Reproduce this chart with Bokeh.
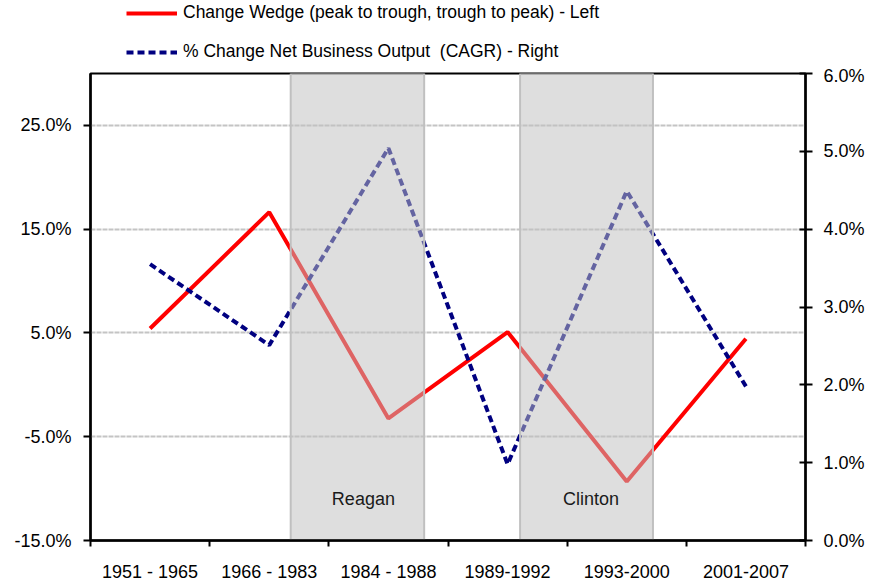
from bokeh.plotting import figure
from bokeh.layouts import column
from bokeh.models import (Range1d, LinearAxis, FixedTicker, PrintfTickFormatter,
                          Legend, LegendItem, ColumnDataSource)
from bokeh.core.properties import value
from bokeh.embed import file_html
from bokeh.resources import INLINE

# ---- data ----
categories = ["1951 - 1965", "1966 - 1983", "1984 - 1988", "1989-1992", "1993-2000", "2001-2007"]
wedge_change = [5.43, 16.64, -3.24, 5.08, -9.31, 4.44]        # left axis, %
output_cagr = [3.55, 2.51, 5.04, 0.98, 4.49, 1.98]            # right axis, %
left_ticks = [-15, -5, 5, 15, 25]
right_ticks = [0, 1, 2, 3, 4, 5, 6]
band_names = ["Reagan", "Clinton"]
band_start = [1.68, 3.605]
band_end = [2.80, 4.72]
band_label_x = [2.29, 4.2]
band_label_y = [-11.0, -11.0]
series_names = ["Change Wedge (peak to trough, trough to peak) - Left",
                "% Change Net Business Output  (CAGR) - Right"]

FONT = "Liberation Sans"
RED = "#ff0000"
NAVY = "#000080"
xs = [i + 0.5 for i in range(len(categories))]

# ---- main chart ----
p = figure(width=867, height=519, output_backend="svg", toolbar_location=None,
           x_range=Range1d(0, len(categories)), y_range=Range1d(-15, 30),
           min_border_left=90, min_border_right=57, min_border_top=8, min_border_bottom=44)
p.extra_y_ranges = {"right": Range1d(0, 6)}

p.outline_line_color = "black"
p.outline_line_width = 2
p.background_fill_color = "white"
p.border_fill_color = "white"

# x axis
xa = p.xaxis[0]
xa.ticker = FixedTicker(ticks=xs, minor_ticks=list(range(len(categories) + 1)))
xa.major_label_overrides = {x: c for x, c in zip(xs, categories)}
xa.major_tick_line_color = None
xa.minor_tick_in = 0
xa.minor_tick_out = 6
xa.minor_tick_line_width = 2
xa.minor_tick_line_color = "black"
xa.axis_line_width = 2.5
xa.axis_line_color = "black"
xa.major_label_standoff = 15
xa.major_label_text_font = FONT
xa.major_label_text_font_size = "18px"
xa.major_label_text_color = "black"

# left axis
ya = p.yaxis[0]
ya.ticker = FixedTicker(ticks=left_ticks)
ya.formatter = PrintfTickFormatter(format="%.1f%%")
ya.minor_tick_line_color = None
ya.major_tick_in = 0
ya.major_tick_out = 7
ya.major_tick_line_width = 2
ya.axis_line_width = 2.5
ya.major_label_standoff = 12
ya.major_label_text_font = FONT
ya.major_label_text_font_size = "18px"
ya.major_label_text_color = "black"

# right axis
ra = LinearAxis(y_range_name="right", ticker=FixedTicker(ticks=right_ticks),
                formatter=PrintfTickFormatter(format="%.1f%%"))
ra.minor_tick_line_color = None
ra.major_tick_in = 6
ra.major_tick_out = 7
ra.major_tick_line_width = 2
ra.axis_line_width = 2.5
ra.major_label_standoff = 11
ra.major_label_text_font = FONT
ra.major_label_text_font_size = "18px"
ra.major_label_text_color = "black"
p.add_layout(ra, "right")

p.xgrid.grid_line_color = None
p.ygrid.grid_line_color = "#c4c4c4"
p.ygrid.grid_line_width = 2
p.ygrid.grid_line_dash = "5 1"

# lines
p.line(xs, wedge_change, line_color=RED, line_width=4)
p.line(xs, output_cagr, y_range_name="right", line_color=NAVY,
       line_width=4, line_dash="7 4")

# shaded bands on top
bands = ColumnDataSource(dict(left=band_start, right=band_end,
                              bottom=[-15] * len(band_start), top=[30] * len(band_start)))
p.quad(left="left", right="right", bottom="bottom", top="top", source=bands,
       fill_color="#c0c0c0", fill_alpha=0.52, line_color="#c0c0c0", line_width=2)

p.text(band_label_x, band_label_y, text=band_names, text_font=value(FONT),
       text_font_size="18px", text_color="#1a1a1a", text_align="center",
       text_baseline="middle")

# ---- legend strip above the chart (series drawn off-range, only the legend shows) ----
lg = figure(width=867, height=65, output_backend="svg", toolbar_location=None,
            x_range=Range1d(0, len(categories)), y_range=Range1d(1000, 1001),
            x_axis_type=None, y_axis_type=None,
            min_border_left=90, min_border_right=57, min_border_top=0, min_border_bottom=0)
lg.outline_line_color = None
lg.xgrid.grid_line_color = None
lg.ygrid.grid_line_color = None
lr = lg.line(xs, wedge_change, line_color=RED, line_width=4)
lb = lg.line(xs, output_cagr, line_color=NAVY, line_width=4, line_dash="7 4")

legend = Legend(items=[
    LegendItem(label=series_names[0], renderers=[lr]),
    LegendItem(label=series_names[1], renderers=[lb]),
], location=(36, 3), orientation="vertical")
legend.padding = 0
legend.margin = 0
legend.spacing = 18
legend.glyph_width = 51
legend.glyph_height = 20
legend.label_height = 20
legend.label_standoff = 6
legend.label_text_font = FONT
legend.label_text_font_size = "17.5px"
legend.label_text_color = "black"
legend.border_line_color = None
legend.background_fill_alpha = 0
lg.add_layout(legend, "center")

layout = column(lg, p, spacing=0)
open("out.html", "w").write(file_html(layout, INLINE))
